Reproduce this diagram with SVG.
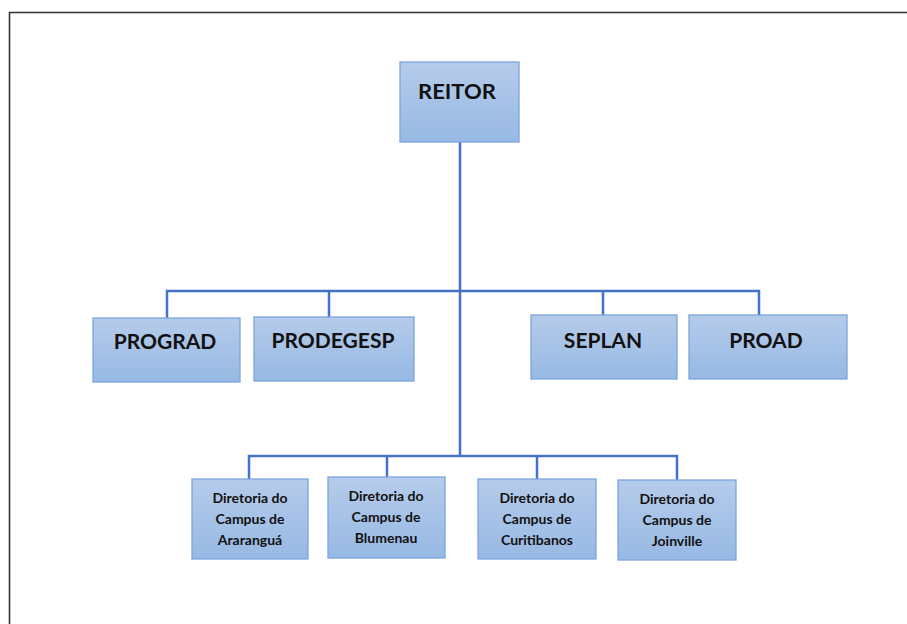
<svg xmlns="http://www.w3.org/2000/svg" width="907" height="624" viewBox="0 0 907 624">
<defs>
<linearGradient id="g" x1="0" y1="0" x2="0" y2="1">
<stop offset="0" stop-color="#b5cbea"/>
<stop offset="1" stop-color="#97b9e4"/>
</linearGradient>
<style>
.box{fill:url(#g);stroke:#7aa5dc;stroke-width:1.3}
.t1{font-family:Lato,"Liberation Sans",sans-serif;font-weight:bold;font-size:21px;fill:#111;text-anchor:middle}
.t2{font-family:Lato,"Liberation Sans",sans-serif;font-weight:bold;font-size:14px;fill:#111;text-anchor:middle}
.ln{stroke:#4472c4;stroke-width:2.5;fill:none}
</style>
</defs>
<rect width="907" height="624" fill="#fff"/>
<path d="M9.5,624 V12.5 H907" fill="none" stroke="#333" stroke-width="1.6"/>
<g id="connectors">
<path class="ln" d="M460,142 V456"/>
<path class="ln" d="M167,318 V291 H759 V315"/>
<path class="ln" d="M329,291 V317"/>
<path class="ln" d="M603,291 V315"/>
<path class="ln" d="M249,479 V456 H677 V480"/>
<path class="ln" d="M387,456 V477"/>
<path class="ln" d="M537,456 V479"/>
</g>
<g id="reitor"><rect class="box" x="400" y="62" width="119" height="80"/><text class="t1" x="457" y="99" textLength="78" lengthAdjust="spacingAndGlyphs">REITOR</text></g>
<g id="prograd"><rect class="box" x="93" y="318" width="147" height="64"/><text class="t1" x="165" y="349">PROGRAD</text></g>
<g id="prodegesp"><rect class="box" x="254" y="317" width="160" height="64"/><text class="t1" x="333" y="348">PRODEGESP</text></g>
<g id="seplan"><rect class="box" x="531" y="315" width="146" height="64"/><text class="t1" x="603" y="348">SEPLAN</text></g>
<g id="proad"><rect class="box" x="689" y="315" width="158" height="64"/><text class="t1" x="766" y="348">PROAD</text></g>
<g id="ararangua"><rect class="box" x="192" y="479" width="116" height="80"/><text class="t2" x="250" y="503">Diretoria do<tspan x="250" y="524">Campus de</tspan><tspan x="250" y="545">Araranguá</tspan></text></g>
<g id="blumenau"><rect class="box" x="328" y="477" width="117" height="81"/><text class="t2" x="386" y="501">Diretoria do<tspan x="386" y="522">Campus de</tspan><tspan x="386" y="543">Blumenau</tspan></text></g>
<g id="curitibanos"><rect class="box" x="478" y="479" width="118" height="80"/><text class="t2" x="537" y="503">Diretoria do<tspan x="537" y="524">Campus de</tspan><tspan x="537" y="545">Curitibanos</tspan></text></g>
<g id="joinville"><rect class="box" x="618" y="480" width="118" height="80"/><text class="t2" x="677" y="504">Diretoria do<tspan x="677" y="525">Campus de</tspan><tspan x="677" y="546">Joinville</tspan></text></g>
</svg>
